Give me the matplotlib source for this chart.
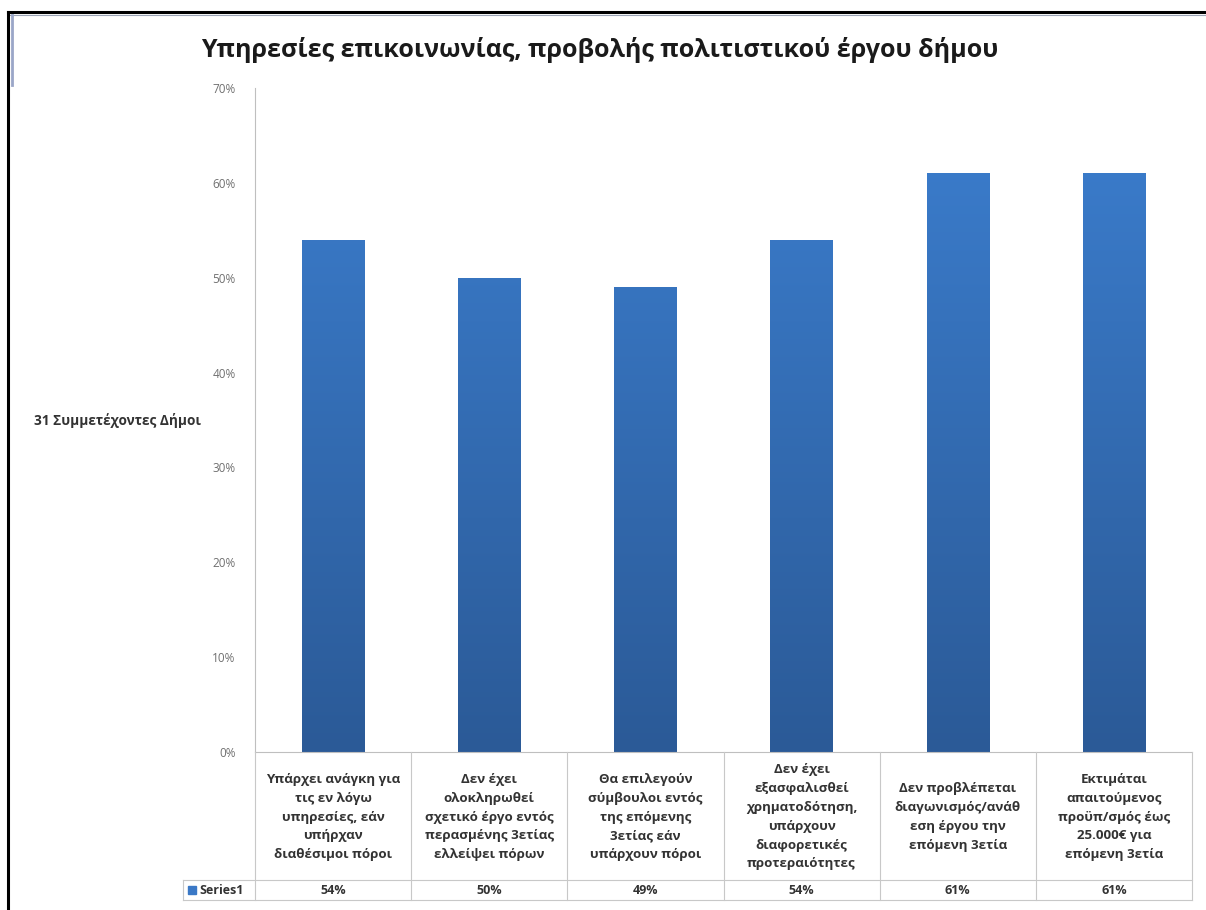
import numpy as np
import matplotlib.pyplot as plt
from matplotlib.colors import LinearSegmentedColormap
from matplotlib.lines import Line2D
from matplotlib.patches import Rectangle

plt.rcParams['font.family'] = ['Open Sans', 'DejaVu Sans']

title = "Υπηρεσίες επικοινωνίας, προβολής πολιτιστικού έργου δήμου"
ylabel = "31 Συμμετέχοντες Δήμοι"
series_name = "Series1"
categories = [
    "Υπάρχει ανάγκη για\nτις εν λόγω\nυπηρεσίες, εάν\nυπήρχαν\nδιαθέσιμοι πόροι",
    "Δεν έχει\nολοκληρωθεί\nσχετικό έργο εντός\nπερασμένης 3ετίας\nελλείψει πόρων",
    "Θα επιλεγούν\nσύμβουλοι εντός\nτης επόμενης\n3ετίας εάν\nυπάρχουν πόροι",
    "Δεν έχει\nεξασφαλισθεί\nχρηματοδότηση,\nυπάρχουν\nδιαφορετικές\nπροτεραιότητες",
    "Δεν προβλέπεται\nδιαγωνισμός/ανάθ\nεση έργου την\nεπόμενη 3ετία",
    "Εκτιμάται\nαπαιτούμενος\nπροϋπ/σμός έως\n25.000€ για\nεπόμενη 3ετία",
]
values = [54, 50, 49, 54, 61, 61]
yticks = [0, 10, 20, 30, 40, 50, 60, 70]

W, H = 1206, 910
fig = plt.figure(figsize=(W / 100, H / 100), dpi=100)
fig.patch.set_facecolor('white')

# axes placement in pixels
x0, x1 = 255, 1192
ytop, ybot = 88, 752
ax = fig.add_axes([x0 / W, 1 - ybot / H, (x1 - x0) / W, (ybot - ytop) / H])

n = len(values)
x = np.arange(n)
bars = ax.bar(x, values, width=0.4, color='none', edgecolor='none', zorder=2)

cmap = LinearSegmentedColormap.from_list('bar', ['#2b5a97', '#3c7fd0'])
grad = np.linspace(0, 1, 256).reshape(-1, 1)
for b in bars:
    im = ax.imshow(grad, cmap=cmap, origin='lower', aspect='auto',
                   extent=[b.get_x(), b.get_x() + b.get_width(), 0, 70],
                   zorder=2)
    im.set_clip_path(b)

ax.set_xlim(-0.5, n - 0.5)
ax.set_ylim(0, 70)
ax.set_yticks(yticks)
ax.set_yticklabels([f"{t}%" for t in yticks], fontsize=8.5, color='#707070')
ax.tick_params(axis='y', length=0, pad=14)
ax.set_xticks([])
for s in ['top', 'right']:
    ax.spines[s].set_visible(False)
ax.spines['left'].set_color('#bfbfbf')
ax.spines['bottom'].set_color('#bfbfbf')

# data table below the plot
def fx(px):
    return px / W

def fy(py):
    return 1 - py / H

grid = '#c8c8c8'
row1, row2 = 880, 900
legx = 183
colw = (x1 - x0) / n
fig.add_artist(Line2D([fx(legx), fx(x1)], [fy(row1)] * 2, color=grid, lw=0.8))
fig.add_artist(Line2D([fx(legx), fx(x1)], [fy(row2)] * 2, color=grid, lw=0.8))
fig.add_artist(Line2D([fx(legx)] * 2, [fy(row1), fy(row2)], color=grid, lw=0.8))
for i in range(n + 1):
    xx = x0 + i * colw
    fig.add_artist(Line2D([fx(xx)] * 2, [fy(ybot), fy(row2)], color=grid, lw=0.8))
for i, (lab, v) in enumerate(zip(categories, values)):
    cx = x0 + (i + 0.5) * colw
    fig.text(fx(cx), fy(817), lab, ha='center', va='center',
             fontsize=9.6, fontweight='bold', color='#333333', linespacing=1.58)
    fig.text(fx(cx), fy((row1 + row2) / 2), f"{v}%", ha='center', va='center',
             fontsize=9, fontweight='bold', color='#333333')
fig.add_artist(Rectangle((fx(188), fy(894)), 8 / W, 8 / H, color='#3a78c6',
                         transform=fig.transFigure))
fig.text(fx(199), fy(890), series_name, ha='left', va='center',
         fontsize=9, fontweight='bold', color='#333333')

fig.text(fx(600), fy(50), title, ha='center', va='center',
         fontsize=18, fontweight='bold', color='#1a1a1a')
fig.text(fx(34), fy(420), ylabel, ha='left', va='center',
         fontsize=9.8, fontweight='bold', color='#333333')

# outer frame lines
fig.add_artist(Line2D([fx(8), 1], [fy(12)] * 2, color='black', lw=2.2))
fig.add_artist(Line2D([fx(8), 1], [fy(15)] * 2, color='#9aa3b5', lw=0.8))
fig.add_artist(Line2D([fx(8)] * 2, [0, fy(12)], color='black', lw=2.2))
fig.add_artist(Line2D([fx(12)] * 2, [fy(85), fy(15)], color='#9aa6c8', lw=2))

fig.savefig('out.png', dpi=100)
